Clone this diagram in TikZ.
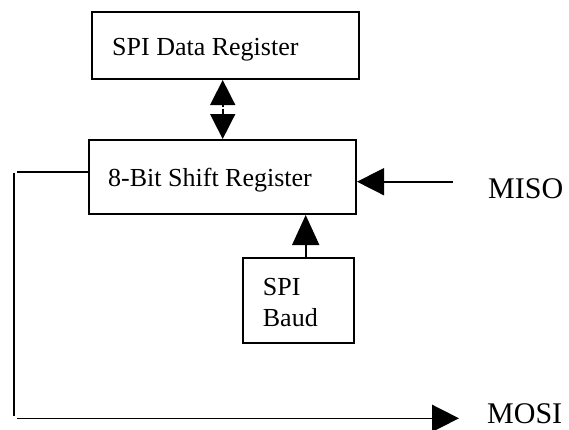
\documentclass[tikz,border=0pt]{standalone}
\usepackage{fontspec}
\setmainfont{Liberation Serif}
\usetikzlibrary{arrows.meta}
\begin{document}
\begin{tikzpicture}[x=1pt,y=-1pt,
  box/.style={draw,line width=2pt,inner sep=0pt},
  lbl/.style={font=\fontsize{26}{31}\selectfont,inner sep=0pt,anchor=base west},
  sig/.style={font=\fontsize{30}{36}\selectfont,inner sep=0pt,anchor=base west,text depth=0pt},
  wire/.style={line width=1.6pt},
  tipA/.style={-{Triangle[length=27pt,width=27pt]}},
  tipB/.style={-{Triangle[length=25pt,width=25pt]}},
  tipC/.style={-{Triangle[length=30pt,width=27pt]}}]
\useasboundingbox (0,0) rectangle (569,429);
% boxes
\node[box,minimum width=266.7pt,minimum height=66.7pt] (data) at (225.65,45.65) {};
\node[box,minimum width=266.7pt,minimum height=74pt] (shift) at (222.65,177) {};
\node[box,minimum width=111.3pt,minimum height=84.7pt] (baud) at (298.35,300.35) {};
% texts
\node[lbl] (dataT) at (112,55) {SPI Data Register};
\node[lbl] (shiftT) at (108,186.7) {8-Bit Shift Register};
\node[lbl] (baudT1) at (262.7,295) {SPI};
\node[lbl] (baudT2) at (262.7,326) {Baud};
\node[sig] (miso) at (488,198.3) {MISO};
\node[sig] (mosi) at (487,423.5) {MOSI};
% double arrow
\coordinate (dm1) at (222.7,106.5);
\coordinate (dm2) at (222.7,108.5);
\draw[wire,tipB] (dm1) -- (dm1 |- data.south);
\draw[wire,tipB] (dm2) -- (dm2 |- shift.north);
% MISO arrow
\coordinate (misoS) at (453,181.7);
\draw[wire,tipA] (misoS) -- (misoS -| shift.east);
% baud arrow
\coordinate (ba) at (305.7,258);
\draw[wire,tipC] (ba) -- (ba |- shift.south);
% MOSI path
\coordinate (l1) at (17,171.7);
\draw[wire] (shift.west |- l1) -- (l1);
\coordinate (v1) at (14,172.7);
\coordinate (v2) at (14,415.7);
\draw[wire] (v1) -- (v2);
\coordinate (b1) at (17,418.3);
\coordinate (mosiE) at (459,418.3);
\draw[wire,tipA] (b1) -- (mosiE);
\end{tikzpicture}
\end{document}
